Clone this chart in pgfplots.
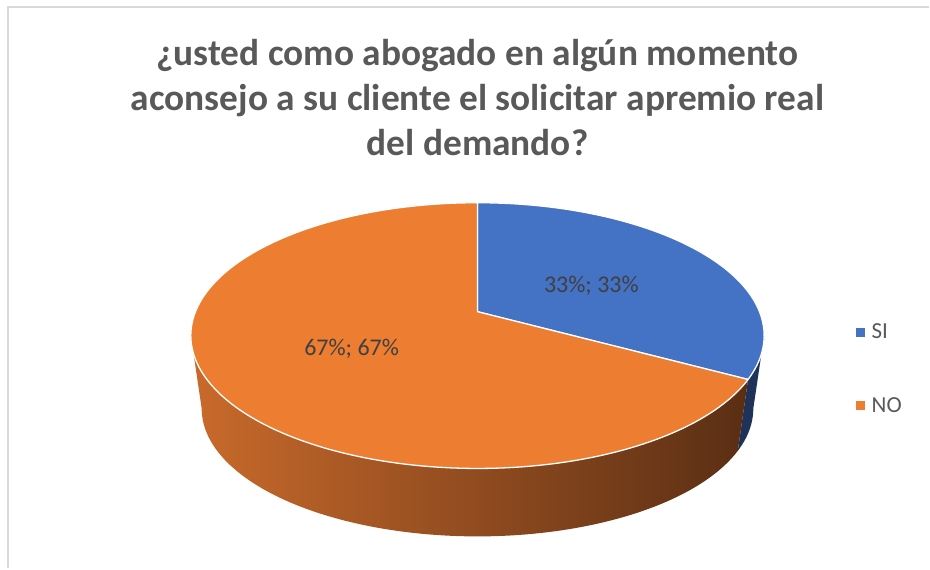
\documentclass[border=0pt]{standalone}
\usepackage{pgfplots}
\pgfplotsset{compat=1.18}
\usepackage{pgfplotstable}
\usepackage{fontspec}
\setmainfont{Carlito}
\definecolor{siblue}{HTML}{4472C4}
\definecolor{noorange}{HTML}{ED7D31}
\definecolor{siside}{HTML}{1F3358}
\definecolor{sideL}{HTML}{C96A2B}
\definecolor{sideR}{HTML}{5A2E14}
\definecolor{titlegray}{HTML}{595959}
\definecolor{labgray}{HTML}{404040}
\definecolor{framegray}{HTML}{D9D9D9}

\pgfplotstableread{
label value
SI 33
NO 67
}\piedata

\begin{document}
\begin{tikzpicture}[declare function={
  px(\t)=478+282.3*cos(\t)/(1+0.18*sin(\t));
  py(\t)=312-128.7*sin(\t)/(1+0.18*sin(\t));
  qx(\t)=478+271.6*cos(\t)/(1+0.18*sin(\t));
  qy(\t)=386-123.8*sin(\t)/(1+0.18*sin(\t));
}]
\pgfplotstablegetelem{0}{value}\of\piedata \pgfmathsetmacro{\vSI}{\pgfplotsretval}
\pgfplotstablegetelem{1}{value}\of\piedata \pgfmathsetmacro{\vNO}{\pgfplotsretval}
\pgfmathsetmacro{\fSI}{\vSI/(\vSI+\vNO)}
\pgfmathsetmacro{\fNO}{\vNO/(\vSI+\vNO)}
\pgfmathsetmacro{\aB}{90-360*\fSI}
\pgfmathsetmacro{\aC}{\aB-360*\fNO}
\begin{axis}[
  width=930bp, height=569bp, scale only axis,
  xmin=0, xmax=930, ymin=0, ymax=569, y dir=reverse,
  hide axis, clip=false,
  legend style={at={(axis cs:857,322)}, anchor=north west, draw=none, fill=none,
    font=\fontsize{23bp}{27bp}\selectfont, text=titlegray,
    row sep=53bp, column sep=5bp, inner sep=0pt, nodes={inner sep=2bp}},
  legend cell align=left,
  legend image code/.code={\fill[#1] (0bp,-4bp) rectangle (8bp,4bp);},
]
\path (0,0) rectangle (930,569);
% frame
\draw[framegray, line width=2bp] (8,569) -- (8,7) -- (930,7);
% sides
\fill[siside] plot[domain=-10.37:\aB, samples=20, variable=\t] ({px(\t)},{py(\t)})
  -- plot[domain=\aB:-10.37, samples=20, variable=\t] ({qx(\t)},{qy(\t)}) -- cycle;
\shade[left color=sideL, right color=sideR]
  plot[domain=\aB:-169.63, samples=120, variable=\t] ({px(\t)},{py(\t)})
  -- plot[domain=-169.63:\aB, samples=120, variable=\t] ({qx(\t)},{qy(\t)}) -- cycle;
% top faces
\filldraw[fill=siblue, draw=white, line width=1.3bp, line join=round]
  (478,312) -- plot[domain=90:\aB, samples=80, variable=\t] ({px(\t)},{py(\t)}) -- cycle;
\filldraw[fill=noorange, draw=white, line width=1.3bp, line join=round]
  (478,312) -- plot[domain=\aB:\aC, samples=200, variable=\t] ({px(\t)},{py(\t)}) -- cycle;
% data labels
\node[font=\fontsize{24bp}{29bp}\selectfont, text=labgray, anchor=base] at (592,293) {33\%; 33\%};
\node[font=\fontsize{24bp}{29bp}\selectfont, text=labgray, anchor=base] at (352,356) {67\%; 67\%};
% title
\node[font=\bfseries\fontsize{37.4bp}{45bp}\selectfont, text=titlegray, anchor=base] at (478,66) {¿usted como abogado en algún momento};
\node[font=\bfseries\fontsize{37.4bp}{45bp}\selectfont, text=titlegray, anchor=base] at (478,111) {aconsejo a su cliente el solicitar apremio real};
\node[font=\bfseries\fontsize{37.4bp}{45bp}\selectfont, text=titlegray, anchor=base] at (478,156) {del demando?};
% legend
\addlegendimage{siblue}
\addlegendentry{SI}
\addlegendimage{noorange}
\addlegendentry{NO}
\end{axis}
\end{tikzpicture}
\end{document}
